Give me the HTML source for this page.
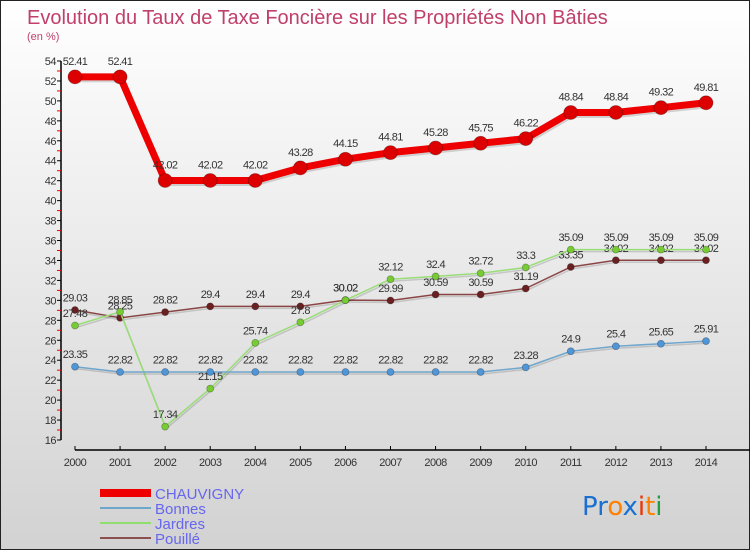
<!DOCTYPE html>
<html><head><meta charset="utf-8"><style>
html,body{margin:0;padding:0}
body{width:750px;height:550px;overflow:hidden;font-family:"Liberation Sans","DejaVu Sans",sans-serif}
</style></head><body>
<svg id="c" width="750" height="550" xmlns="http://www.w3.org/2000/svg">
<defs><linearGradient id="bg" x1="0" y1="0" x2="0" y2="1"><stop offset="0" stop-color="#ffffff"/><stop offset="1" stop-color="#d2d2d2"/></linearGradient></defs>
<rect x="0.5" y="0.5" width="749" height="549" fill="url(#bg)" stroke="#222" stroke-width="1"/>
<text x="27" y="24" font-size="20" fill="#c0406a">Evolution du Taux de Taxe Foncière sur les Propriétés Non Bâties</text>
<text x="27" y="40" font-size="11" fill="#c0406a">(en %)</text>
<g id="axes"></g><g id="series"></g>
<g>
<rect x="100" y="489" width="51" height="8" fill="#ee0000"/>
<text x="155" y="499" font-size="15" fill="#6666ee">CHAUVIGNY</text>
<rect x="100" y="507" width="51" height="2" fill="#6fa6cc"/>
<text x="155" y="514" font-size="15" fill="#6666ee">Bonnes</text>
<rect x="100" y="522" width="51" height="2" fill="#90dd70"/>
<text x="155" y="529" font-size="15" fill="#6666ee">Jardres</text>
<rect x="100" y="537" width="51" height="2" fill="#8a5050"/>
<text x="155" y="544" font-size="15" fill="#6666ee">Pouillé</text>
</g>
<g font-size="26" font-family="'DejaVu Sans',sans-serif">
<text x="582" y="515"><tspan fill="#1a6fd0">Pr</tspan><tspan fill="#ff8000">o</tspan><tspan fill="#1a6fd0">x</tspan><tspan fill="#ee3300">i</tspan><tspan fill="#ff8000">t</tspan><tspan fill="#22a040">i</tspan></text>
</g>
</svg>
<script>
const years=[2000,2001,2002,2003,2004,2005,2006,2007,2008,2009,2010,2011,2012,2013,2014];
const chauvigny=[52.41,52.41,42.02,42.02,42.02,43.28,44.15,44.81,45.28,45.75,46.22,48.84,48.84,49.32,49.81];
const bonnes=[23.35,22.82,22.82,22.82,22.82,22.82,22.82,22.82,22.82,22.82,23.28,24.9,25.4,25.65,25.91];
const jardres=[27.48,28.85,17.34,21.15,25.74,27.8,30.02,32.12,32.4,32.72,33.3,35.09,35.09,35.09,35.09];
const pouille=[29.03,28.25,28.82,29.4,29.4,29.4,30.02,29.99,30.59,30.59,31.19,33.35,34.02,34.02,34.02];
const yTicks=[16,18,20,22,24,26,28,30,32,34,36,38,40,42,44,46,48,50,52,54];
const NS="http://www.w3.org/2000/svg";
function X(i){return 75+i*(706-75)/(years.length-1);}
function Y(v){return 440-(v-16)*(440-61)/38;}
function mk(t,a,p){const e=document.createElementNS(NS,t);for(const k in a)e.setAttribute(k,a[k]);p.appendChild(e);return e;}
const ax=document.getElementById('axes');
const ya=mk('line',{x1:61,y1:Y(54),x2:61,y2:440,stroke:'#000','stroke-width':1.5},ax);


yTicks.forEach(v=>{
 mk('line',{x1:57,y1:Y(v),x2:61,y2:Y(v),stroke:'#000'},ax);
 if(v<54) mk('line',{x1:57,y1:Y(v+1),x2:61,y2:Y(v+1),stroke:'#e00'},ax);
 const t=mk('text',{x:56,y:Y(v)+4,'font-size':11,'text-anchor':'end',fill:'#333','letter-spacing':'-0.5'},ax);
 t.textContent=v;
 
 
});
const xa=mk('line',{x1:75,y1:450,x2:750,y2:450,stroke:'#000','stroke-width':1.5},ax);


years.forEach((y,i)=>{
 mk('line',{x1:X(i),y1:446,x2:X(i),y2:450,stroke:'#000'},ax);
 const t=mk('text',{x:X(i),y:466,'font-size':11,'text-anchor':'middle',fill:'#333','letter-spacing':'-0.5'},ax);
 t.textContent=y;
 
 
});
const sg=document.getElementById('series');
function draw(name,vals,color,w,r,dot){
 const g=mk('g',{},sg);
 
 
 const pts=vals.map((v,i)=>X(i)+','+Y(v)).join(' ');
 mk('polyline',{points:pts,fill:'none',stroke:'rgba(0,0,0,0.15)','stroke-width':w,transform:'translate(1,2)'},g);
 const pl=mk('polyline',{points:pts,fill:'none',stroke:color,'stroke-width':w,'stroke-linejoin':'round'},g);
 
 
 vals.forEach((v,i)=>{
  const c=mk('circle',{cx:X(i),cy:Y(v),r:r,fill:dot,stroke:'rgba(0,0,0,0.3)','stroke-width':0.8},g);
  
  
  const t=mk('text',{x:X(i),y:Y(v)-(r+5),'font-size':11,'text-anchor':'middle',fill:'#333','letter-spacing':'-0.6'},g);
  t.textContent=v;
  
  
 });
}
draw('pouille',pouille,'#8a4545',1.5,3.5,'#6a2020');
draw('jardres',jardres,'#99dd77',1.5,3.5,'#77cc33');
draw('bonnes',bonnes,'#6fa6cc',1.5,3.5,'#4f96d8');
draw('chauvigny',chauvigny,'#ee0000',7,7,'#dd0000');
</script>
</body></html>
